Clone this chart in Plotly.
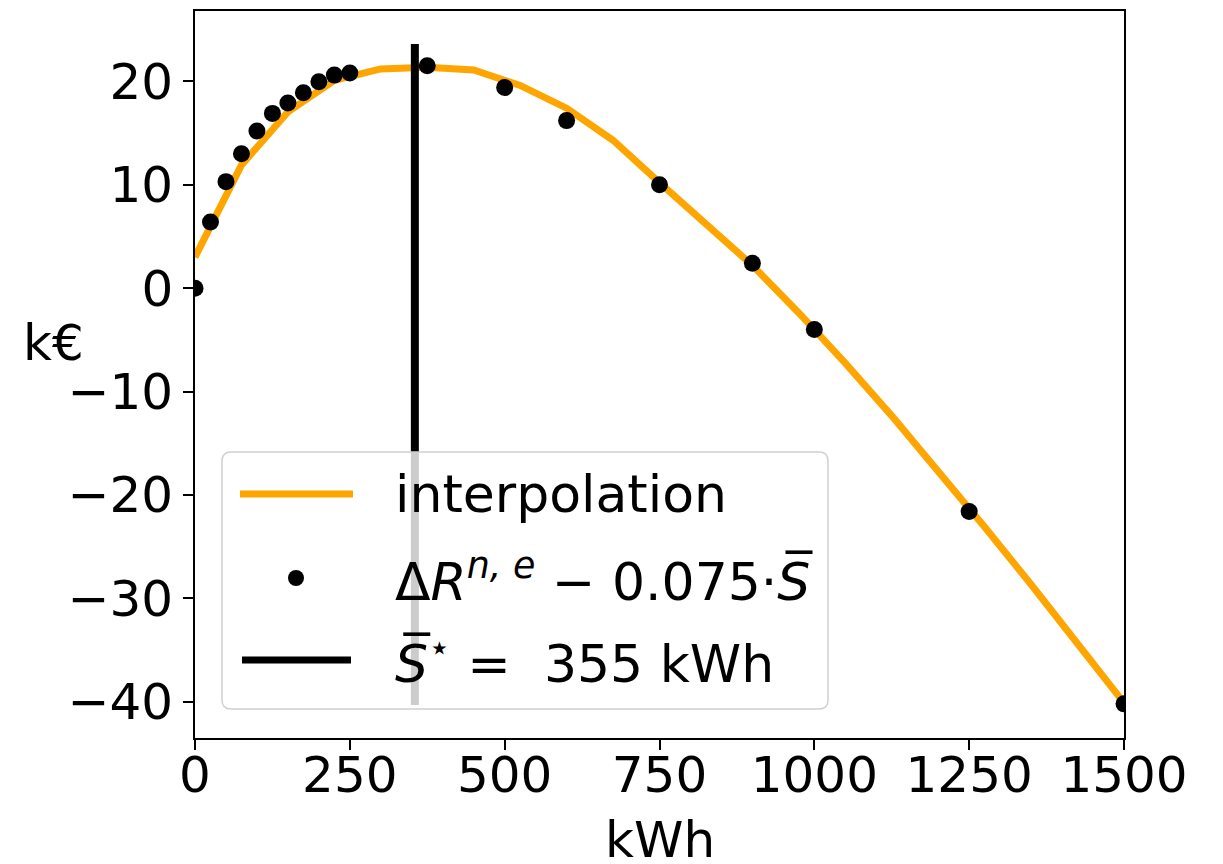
import plotly.graph_objects as go

# Storage capacities evaluated (kWh) and net benefit of each run (k€)
storage_kwh = [0, 25, 50, 75, 100, 125, 150, 175, 200, 225, 250,
               375, 500, 600, 750, 900, 1000, 1250, 1500]
net_benefit_keur = [0.0, 6.4, 10.3, 13.0, 15.2, 16.9, 17.9, 18.9, 19.95, 20.6, 20.8,
                    21.5, 19.4, 16.2, 10.0, 2.4, -4.0, -21.6, -40.2]

# Interpolating curve sampled every 75 kWh
interp_kwh = [0, 75, 150, 225, 300, 375, 450, 525, 600, 675, 750,
              825, 900, 975, 1050, 1125, 1200, 1275, 1350, 1425, 1500]
interp_keur = [3.0, 11.9, 17.05, 20.1, 21.2, 21.35, 21.1, 19.6, 17.4, 14.3, 10.2,
               6.3, 2.2, -2.4, -7.25, -12.35, -17.65, -23.1, -28.65, -34.3, -40.1]

# Optimal storage size and the vertical extent of its marker line
optimum_kwh = 355
optimum_span_keur = [-40.3, 23.6]

x_ticks = [0, 250, 500, 750, 1000, 1250, 1500]
y_ticks = [-40, -30, -20, -10, 0, 10, 20]
y_tick_text = ["\u221240", "\u221230", "\u221220", "\u221210", "0", "10", "20"]

FONT = "DejaVu Sans"
FS = 50
LEG_FS = 52
ORANGE = "#FFA500"

W, H = 1223, 864
L, R, T, B = 195, 99, 11, 126
PW, PH = W - L - R, H - T - B


def px(xp):
    return (xp - L) / PW


def py(yp):
    return (H - B - yp) / PH


fig = go.Figure()

fig.add_trace(go.Scatter(
    x=interp_kwh, y=interp_keur, mode="lines",
    line=dict(color=ORANGE, width=7), showlegend=False,
))
fig.add_trace(go.Scatter(
    x=[optimum_kwh, optimum_kwh], y=optimum_span_keur, mode="lines",
    line=dict(color="black", width=8), showlegend=False,
))
fig.add_trace(go.Scatter(
    x=storage_kwh, y=net_benefit_keur, mode="markers",
    marker=dict(color="black", size=17), showlegend=False,
))

# Legend frame with rounded corners
x0, x1, y0, y1, r = 222, 828, 452, 709, 9
rx, ry = r / PW, r / PH
X0, X1, Y0, Y1 = px(x0), px(x1), py(y1), py(y0)
path = (f"M {X0 + rx},{Y1} L {X1 - rx},{Y1} Q {X1},{Y1} {X1},{Y1 - ry} "
        f"L {X1},{Y0 + ry} Q {X1},{Y0} {X1 - rx},{Y0} "
        f"L {X0 + rx},{Y0} Q {X0},{Y0} {X0},{Y0 + ry} "
        f"L {X0},{Y1 - ry} Q {X0},{Y1} {X0 + rx},{Y1} Z")
shapes = [dict(type="path", path=path, xref="paper", yref="paper", layer="above",
               fillcolor="rgba(255,255,255,0.8)", line=dict(color="#d0d0d0", width=1.5))]

# Legend samples
row_y = [494, 578, 660]
shapes.append(dict(type="line", xref="paper", yref="paper", layer="above",
                   x0=px(240), x1=px(353), y0=py(row_y[0]), y1=py(row_y[0]),
                   line=dict(color=ORANGE, width=7)))
shapes.append(dict(type="circle", xref="paper", yref="paper", layer="above",
                   x0=px(296 - 8), x1=px(296 + 8), y0=py(row_y[1] + 8), y1=py(row_y[1] - 8),
                   fillcolor="black", line=dict(color="black", width=0)))
shapes.append(dict(type="line", xref="paper", yref="paper", layer="above",
                   x0=px(242), x1=px(351), y0=py(row_y[2]), y1=py(row_y[2]),
                   line=dict(color="black", width=7)))

legend_text = [
    "interpolation",
    "\u0394<i>R</i><sup><i>n, e</i></sup> \u2212 0.075\u00b7<i>S\u0305</i>",
    "<i>S\u0305</i><sup>\u22c6</sup> =  355 kWh",
]
annotations = []
for txt, yy in zip(legend_text, row_y):
    annotations.append(dict(text=txt, xref="paper", yref="paper", x=px(393), y=py(yy),
                            xanchor="left", yanchor="middle", showarrow=False,
                            font=dict(family=FONT, size=LEG_FS, color="black")))

# Axis titles
annotations.append(dict(text="k\u20ac", xref="paper", yref="paper", x=px(53), y=py(343),
                        xanchor="center", yanchor="middle", showarrow=False,
                        font=dict(family=FONT, size=FS, color="black")))
annotations.append(dict(text="kWh", xref="paper", yref="paper", x=px(660), y=py(840),
                        xanchor="center", yanchor="middle", showarrow=False,
                        font=dict(family=FONT, size=FS, color="black")))

axis_common = dict(
    showline=True, linecolor="black", linewidth=1.6, mirror=True,
    ticks="outside", ticklen=10, tickwidth=1.6, tickcolor="black",
    showgrid=False, zeroline=False,
    tickfont=dict(family=FONT, size=FS, color="black"),
)

fig.update_layout(
    width=W, height=H,
    margin=dict(l=L, r=R, t=T, b=B, autoexpand=False),
    paper_bgcolor="white", plot_bgcolor="white",
    showlegend=False,
    xaxis=dict(range=[0, 1500], tickmode="array", tickvals=x_ticks,
               ticktext=[str(v) for v in x_ticks], ticklabelstandoff=-18,
               **axis_common),
    yaxis=dict(range=[-43.5, 26.8], tickmode="array", tickvals=y_ticks,
               ticktext=y_tick_text, **axis_common),
    shapes=shapes,
    annotations=annotations,
)

fig.write_html("out.html")
